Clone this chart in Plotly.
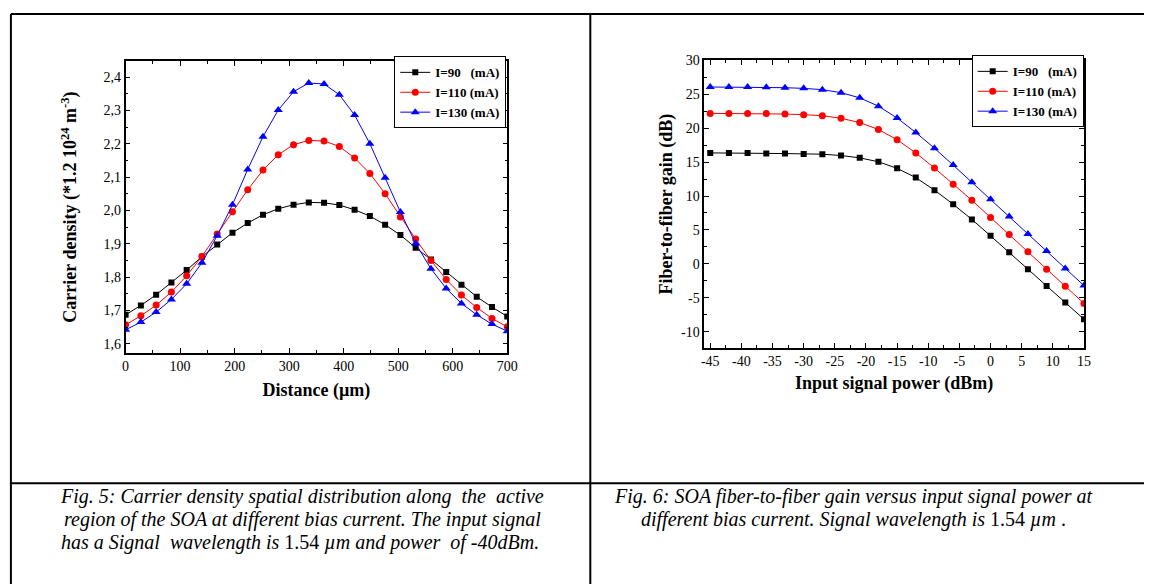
import plotly.graph_objects as go

# ---------- Data: Fig. 5 (carrier density vs distance) ----------
distance_um = [0, 28, 56, 84, 112, 140, 168, 196, 224, 252, 280, 308, 336,
               364, 392, 420, 448, 476, 504, 532, 560, 588, 616, 644, 672, 700]
density_I90 = [1.687, 1.715, 1.747, 1.784, 1.821, 1.861, 1.898, 1.933, 1.962, 1.987,
               2.005, 2.017, 2.024, 2.023, 2.016, 2.002, 1.983, 1.957, 1.926, 1.888,
               1.853, 1.815, 1.777, 1.741, 1.710, 1.682]
density_I110 = [1.657, 1.684, 1.716, 1.755, 1.804, 1.862, 1.929, 1.996, 2.062, 2.121,
                2.167, 2.197, 2.210, 2.208, 2.192, 2.157, 2.111, 2.050, 1.980, 1.914,
                1.850, 1.793, 1.746, 1.709, 1.676, 1.651]
density_I130 = [1.642, 1.665, 1.695, 1.733, 1.780, 1.843, 1.924, 2.017, 2.123, 2.221,
                2.301, 2.356, 2.382, 2.379, 2.347, 2.286, 2.200, 2.098, 1.995, 1.901,
                1.825, 1.766, 1.721, 1.687, 1.659, 1.638]

# ---------- Data: Fig. 6 (gain vs input power) ----------
input_power_dbm = [-45, -42, -39, -36, -33, -30, -27, -24, -21, -18, -15,
                   -12, -9, -6, -3, 0, 3, 6, 9, 12, 15]
gain_I90 = [16.36, 16.36, 16.36, 16.26, 16.26, 16.21, 16.17, 15.97, 15.63, 15.05, 14.08,
            12.72, 10.87, 8.79, 6.55, 4.13, 1.70, -0.78, -3.25, -5.68, -8.16]
gain_I110 = [22.18, 22.18, 22.18, 22.18, 22.09, 21.99, 21.84, 21.46, 20.83, 19.81, 18.30,
             16.36, 14.13, 11.75, 9.37, 6.84, 4.32, 1.80, -0.78, -3.30, -5.83]
gain_I130 = [26.07, 26.07, 26.07, 26.02, 25.97, 25.87, 25.68, 25.24, 24.47, 23.25, 21.50,
             19.37, 17.04, 14.56, 12.04, 9.51, 6.99, 4.42, 1.89, -0.68, -3.20]

# ---------- Tick labels ----------
x1_tickvals = [0, 100, 200, 300, 400, 500, 600, 700]
x1_ticktext = ["0", "100", "200", "300", "400", "500", "600", "700"]
y1_tickvals = [1.6, 1.7, 1.8, 1.9, 2.0, 2.1, 2.2, 2.3, 2.4]
y1_ticktext = ["1,6", "1,7", "1,8", "1,9", "2,0", "2,1", "2,2", "2,3", "2,4"]
x2_tickvals = [-45, -40, -35, -30, -25, -20, -15, -10, -5, 0, 5, 10, 15]
x2_ticktext = ["-45", "-40", "-35", "-30", "-25", "-20", "-15", "-10", "-5", "0", "5", "10", "15"]
y2_tickvals = [-10, -5, 0, 5, 10, 15, 20, 25, 30]
y2_ticktext = ["-10", "-5", "0", "5", "10", "15", "20", "25", "30"]

series_names = ["I=90   (mA)", "I=110 (mA)", "I=130 (mA)"]
colors = ["#000000", "#ff0000", "#0000ff"]
symbols = ["square", "circle", "triangle-up"]
msizes = [6, 7, 8]

W, H = 1154, 584
SERIF = "Liberation Serif, Times New Roman, serif"

def px_x(p):
    return p / W

def px_y(p):
    return 1 - p / H

fig = go.Figure()

left_y = [density_I90, density_I110, density_I130]
right_y = [gain_I90, gain_I110, gain_I130]
for i in range(3):
    fig.add_trace(go.Scatter(
        x=distance_um, y=left_y[i], mode="lines+markers",
        name="<b>" + series_names[i].replace("  ", "&nbsp;&nbsp;") + "</b>",
        line=dict(color=colors[i], width=1),
        marker=dict(symbol=symbols[i], size=msizes[i], color=colors[i]),
        xaxis="x", yaxis="y", legend="legend"))
for i in range(3):
    fig.add_trace(go.Scatter(
        x=input_power_dbm, y=right_y[i], mode="lines+markers",
        name="<b>" + series_names[i].replace("  ", "&nbsp;&nbsp;") + "</b>",
        line=dict(color=colors[i], width=1),
        marker=dict(symbol=symbols[i], size=msizes[i], color=colors[i]),
        xaxis="x2", yaxis="y2", legend="legend2"))

axis_common = dict(
    showline=True, linecolor="black", linewidth=1.5, mirror="allticks",
    ticks="inside", ticklen=5, tickwidth=1, tickcolor="black",
    showgrid=False, zeroline=False, tickmode="array",
    tickfont=dict(family=SERIF, size=14, color="black"),
)
title_font = dict(family=SERIF, size=18, color="black")

fig.update_layout(
    width=W, height=H,
    margin=dict(l=0, r=0, t=0, b=0),
    paper_bgcolor="white", plot_bgcolor="white",
    xaxis=dict(domain=[px_x(124), px_x(510)], range=[0, 700], anchor="y",
               tickvals=x1_tickvals, ticktext=x1_ticktext,
               minor=dict(ticks="inside", dtick=50, tick0=0, ticklen=3, tickcolor="black"),
               title=dict(text="<b>Distance (µm)</b>", font=title_font, standoff=10),
               **axis_common),
    yaxis=dict(domain=[px_y(350), px_y(55)], range=[1.573, 2.447], anchor="x",
               tickvals=y1_tickvals, ticktext=y1_ticktext,
               minor=dict(ticks="inside", dtick=0.05, tick0=1.6, ticklen=3, tickcolor="black"),
               title=dict(text="<b>Carrier density (*1.2 10<sup>24</sup> m<sup>-3</sup>)</b>",
                          font=title_font, standoff=22),
               **axis_common),
    xaxis2=dict(domain=[px_x(709.3), px_x(1093.3)], range=[-45.95, 15], anchor="y2",
                tickvals=x2_tickvals, ticktext=x2_ticktext,
                minor=dict(ticks="inside", dtick=2.5, tick0=0, ticklen=3, tickcolor="black"),
                title=dict(text="<b>Input signal power (dBm)</b>", font=title_font, standoff=8),
                **axis_common),
    yaxis2=dict(domain=[px_y(345), px_y(54)], range=[-12.38, 30], anchor="x2",
                tickvals=y2_tickvals, ticktext=y2_ticktext,
                minor=dict(ticks="inside", dtick=2.5, tick0=0, ticklen=3, tickcolor="black"),
                title=dict(text="<b>Fiber-to-fiber gain (dB)</b>", font=title_font, standoff=4),
                **axis_common),
    legend=dict(x=px_x(509), y=px_y(50), xanchor="right", yanchor="top",
                bgcolor="white", bordercolor="black", borderwidth=1,
                font=dict(family=SERIF, size=13, color="black"),
                tracegroupgap=0, itemwidth=30),
    legend2=dict(x=px_x(1093), y=px_y(49), xanchor="right", yanchor="top",
                 bgcolor="white", bordercolor="black", borderwidth=1,
                 font=dict(family=SERIF, size=13, color="black"),
                 tracegroupgap=0, itemwidth=30),
    showlegend=True,
)

# table borders
line_style = dict(color="black", width=2)
shapes = [
    dict(type="line", xref="paper", yref="paper", x0=px_x(8), x1=1, y0=px_y(7), y1=px_y(7), line=line_style),
    dict(type="line", xref="paper", yref="paper", x0=px_x(8), x1=px_x(8), y0=px_y(7), y1=0, line=line_style),
    dict(type="line", xref="paper", yref="paper", x0=px_x(594), x1=px_x(594), y0=px_y(7), y1=0, line=line_style),
    dict(type="line", xref="paper", yref="paper", x0=px_x(8), x1=1, y0=px_y(482), y1=px_y(482), line=line_style),
]
fig.update_layout(shapes=shapes)

cap_font = dict(family=SERIF, size=20, color="black")
captions = [
    (302, 495, "<i>Fig. 5: Carrier density spatial distribution along&nbsp; the&nbsp; active</i>"),
    (303, 519, "<i>region of the SOA at different bias current. The input signal</i>"),
    (300, 542, "<i>has a Signal&nbsp; wavelength is </i>1.54 <i>µm and power&nbsp; of -40dBm.</i>"),
    (860, 495, "<i>Fig. 6: SOA fiber-to-fiber gain versus input signal power at</i>"),
    (860, 519, "<i>different bias current. Signal wavelength is </i>1.54 <i>µm</i> ."),
]
for cx, cy, txt in captions:
    fig.add_annotation(x=px_x(cx), y=px_y(cy), xref="paper", yref="paper",
                       text=txt, showarrow=False, xanchor="center", yanchor="middle",
                       font=cap_font)

fig.write_html("out.html")
